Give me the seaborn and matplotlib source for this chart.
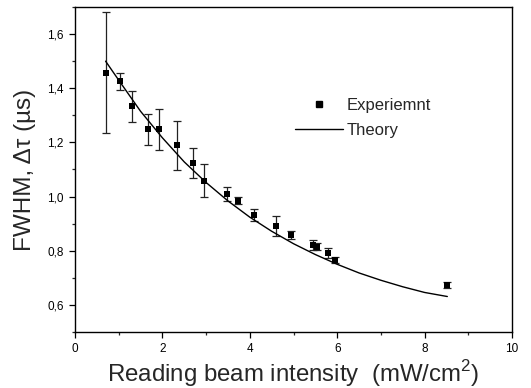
import matplotlib
matplotlib.use("Agg")
import matplotlib.pyplot as plt
import seaborn as sns
import pandas as pd
from matplotlib.ticker import MultipleLocator, FuncFormatter
from matplotlib.lines import Line2D

exp_x = [0.70, 1.04, 1.31, 1.66, 1.92, 2.34, 2.69, 2.95, 3.47, 3.74,
         4.09, 4.60, 4.94, 5.45, 5.54, 5.80, 5.96, 8.52]
exp_y = [1.457, 1.426, 1.333, 1.248, 1.248, 1.189, 1.123, 1.059, 1.010, 0.985,
         0.932, 0.891, 0.858, 0.822, 0.815, 0.791, 0.766, 0.674]
exp_err = [0.224, 0.032, 0.058, 0.058, 0.077, 0.090, 0.056, 0.062, 0.026, 0.012,
           0.021, 0.036, 0.014, 0.018, 0.012, 0.018, 0.012, 0.012]

# Theory curve
th_x = [0.7, 1.0, 1.5, 2.0, 2.5, 3.0, 3.5, 4.0, 4.5, 5.0, 5.5, 6.0, 6.5, 7.0, 7.5, 8.0, 8.52]
th_y = [1.500, 1.430, 1.315, 1.217, 1.128, 1.052, 0.984, 0.924, 0.872, 0.826,
        0.786, 0.750, 0.718, 0.691, 0.667, 0.646, 0.631]

xlabel = "Reading beam intensity  (mW/cm$^\\mathregular{2}$)"
ylabel = "FWHM, \u0394\u03c4 (\u00b5s)"
legend_labels = ["Experiemnt", "Theory"]

sns.set_style("ticks")
plt.rcParams["font.family"] = ["Liberation Sans", "DejaVu Sans"]
plt.rcParams["mathtext.fontset"] = "custom"
plt.rcParams["mathtext.rm"] = "Liberation Sans"

fig = plt.figure(figsize=(5.31, 3.88), dpi=100)
ax = fig.add_axes([75/531, 1-332/388, 437/531, 325/388])

df_exp = pd.DataFrame({"x": exp_x, "y": exp_y, "err": exp_err})
df_th = pd.DataFrame({"x": th_x, "y": th_y})

ax.errorbar(df_exp["x"], df_exp["y"], yerr=df_exp["err"], fmt="none",
            ecolor="#222222", elinewidth=0.9, capsize=3, capthick=0.9, zorder=2)
sns.lineplot(data=df_th, x="x", y="y", ax=ax, color="black", lw=1.0, zorder=3)
sns.scatterplot(data=df_exp, x="x", y="y", ax=ax, marker="s", s=18,
                color="black", edgecolor="black", linewidth=0, zorder=4)

ax.set_xlim(0, 10)
ax.set_ylim(0.5, 1.7)
ax.xaxis.set_major_locator(MultipleLocator(2))
ax.xaxis.set_minor_locator(MultipleLocator(1))
ax.yaxis.set_major_locator(MultipleLocator(0.2))
ax.yaxis.set_minor_locator(MultipleLocator(0.1))
ax.yaxis.set_major_formatter(FuncFormatter(lambda v, p: f"{v:.1f}".replace(".", ",")))
ax.xaxis.set_major_formatter(FuncFormatter(lambda v, p: f"{v:g}"))
ax.tick_params(which="major", length=4.5, width=0.9, labelsize=8.5, direction="out", colors="black")
ax.tick_params(which="minor", length=2.3, width=0.9, direction="out")
for s in ax.spines.values():
    s.set_linewidth(1.0)
    s.set_color("black")

ax.set_xlabel(xlabel, fontsize=17.3, labelpad=2)
ax.set_ylabel(ylabel, fontsize=17.5, labelpad=8)

handles = [Line2D([], [], marker="s", ls="none", color="black", markersize=4),
           Line2D([], [], color="black", lw=1.0)]
ax.legend(handles, legend_labels, frameon=False, fontsize=12,
          loc="upper left", bbox_to_anchor=(0.488, 0.74),
          handlelength=2.9, handletextpad=0.2, labelspacing=0.6, borderaxespad=0)

fig.savefig("out.png", dpi=100)
